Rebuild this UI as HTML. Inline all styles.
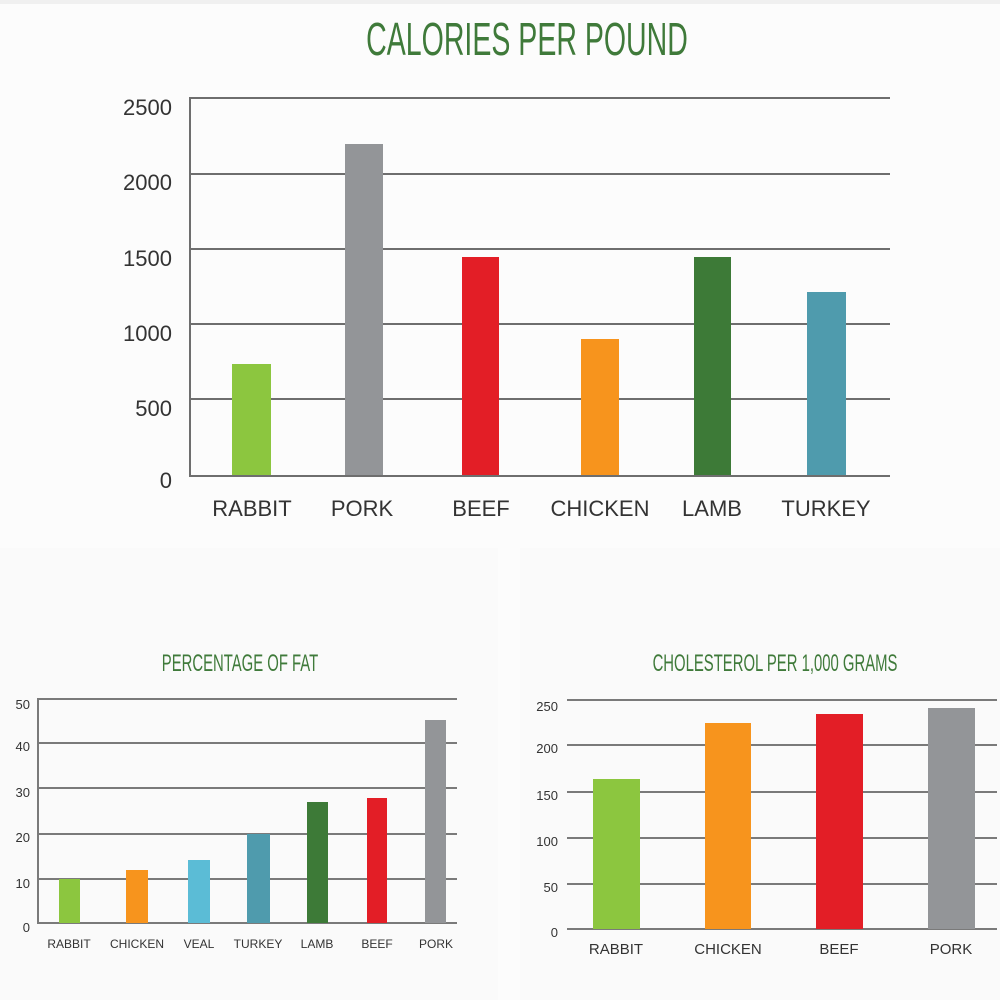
<!DOCTYPE html>
<html><head><meta charset="utf-8"><style>
html,body{margin:0;padding:0;background:#fff;}
svg{display:block;}
text{font-family:"Liberation Sans",sans-serif;}
</style></head><body>
<svg width="1000" height="1000" viewBox="0 0 1000 1000" xmlns="http://www.w3.org/2000/svg">
<rect x="0" y="0" width="1000" height="1000" fill="#fcfcfc"/>
<rect x="0" y="548" width="498" height="452" fill="#fafafa"/>
<rect x="520" y="548" width="480" height="452" fill="#fafafa"/>
<rect x="0" y="0" width="1000" height="4" fill="#f0f0f0"/>
<!-- Top chart -->
<text x="0" y="0" transform="translate(527,55) scale(0.62,1)" font-size="46" fill="#3f7a3a" text-anchor="middle">CALORIES PER POUND</text>
<g stroke="#6e6e6e" stroke-width="2">
<line x1="190" y1="98" x2="890" y2="98"/>
<line x1="190" y1="174" x2="890" y2="174"/>
<line x1="190" y1="249" x2="890" y2="249"/>
<line x1="190" y1="324" x2="890" y2="324"/>
<line x1="190" y1="399" x2="890" y2="399"/>
<line x1="190" y1="476" x2="890" y2="476"/>
<line x1="190" y1="97" x2="190" y2="477"/>
</g>
<g font-size="22" fill="#333" text-anchor="end">
<text x="172" y="115">2500</text><text x="172" y="190">2000</text><text x="172" y="266">1500</text>
<text x="172" y="341">1000</text><text x="172" y="416">500</text><text x="172" y="488">0</text>
</g>
<rect x="232" y="364" width="39" height="111" fill="#8cc63f"/>
<rect x="345" y="144" width="38" height="331" fill="#939598"/>
<rect x="462" y="257" width="37" height="218" fill="#e31e26"/>
<rect x="581" y="339" width="38" height="136" fill="#f7941d"/>
<rect x="694" y="257" width="37" height="218" fill="#3d7a37"/>
<rect x="807" y="292" width="39" height="183" fill="#4f9bad"/>
<g font-size="22" fill="#333" text-anchor="middle">
<text x="252" y="516">RABBIT</text><text x="362" y="516">PORK</text><text x="481" y="516">BEEF</text>
<text x="600" y="516">CHICKEN</text><text x="712" y="516">LAMB</text><text x="826" y="516">TURKEY</text>
</g>
<!-- Fat chart -->
<text x="0" y="0" transform="translate(240,671) scale(0.62,1)" font-size="24" fill="#3f7a3a" text-anchor="middle">PERCENTAGE OF FAT</text>
<g stroke="#7a7a7a" stroke-width="2">
<line x1="37" y1="699" x2="457" y2="699"/>
<line x1="37" y1="743" x2="457" y2="743"/>
<line x1="37" y1="788" x2="457" y2="788"/>
<line x1="37" y1="834" x2="457" y2="834"/>
<line x1="37" y1="879" x2="457" y2="879"/>
<line x1="37" y1="923" x2="457" y2="923"/>
<line x1="38" y1="698" x2="38" y2="924"/>
</g>
<g font-size="13" fill="#333" text-anchor="end">
<text x="30" y="709">50</text><text x="30" y="751">40</text><text x="30" y="797">30</text>
<text x="30" y="842">20</text><text x="30" y="888">10</text><text x="30" y="932">0</text>
</g>
<rect x="59" y="879" width="21" height="44" fill="#8cc63f"/>
<rect x="126" y="870" width="22" height="53" fill="#f7941d"/>
<rect x="188" y="860" width="22" height="63" fill="#5bbcd6"/>
<rect x="247" y="834" width="23" height="89" fill="#4f9bad"/>
<rect x="307" y="802" width="21" height="121" fill="#3d7a37"/>
<rect x="367" y="798" width="20" height="125" fill="#e31e26"/>
<rect x="425" y="720" width="21" height="203" fill="#939598"/>
<g font-size="12" fill="#333" text-anchor="middle">
<text x="69" y="948">RABBIT</text><text x="137" y="948">CHICKEN</text><text x="199" y="948">VEAL</text>
<text x="258" y="948">TURKEY</text><text x="317" y="948">LAMB</text><text x="377" y="948">BEEF</text><text x="436" y="948">PORK</text>
</g>
<!-- Cholesterol chart -->
<text x="0" y="0" transform="translate(775,671) scale(0.62,1)" font-size="24" fill="#3f7a3a" text-anchor="middle">CHOLESTEROL PER 1,000 GRAMS</text>
<g stroke="#7a7a7a" stroke-width="2">
<line x1="567" y1="700" x2="997" y2="700"/>
<line x1="567" y1="745" x2="997" y2="745"/>
<line x1="567" y1="792" x2="997" y2="792"/>
<line x1="567" y1="838" x2="997" y2="838"/>
<line x1="567" y1="884" x2="997" y2="884"/>
<line x1="567" y1="929" x2="997" y2="929"/>
</g>
<g font-size="13" fill="#333" text-anchor="end">
<text x="558" y="711">250</text><text x="558" y="753">200</text><text x="558" y="800">150</text>
<text x="558" y="846">100</text><text x="558" y="892">50</text><text x="558" y="937">0</text>
</g>
<rect x="593" y="779" width="47" height="150" fill="#8cc63f"/>
<rect x="705" y="723" width="46" height="206" fill="#f7941d"/>
<rect x="816" y="714" width="47" height="215" fill="#e31e26"/>
<rect x="928" y="708" width="47" height="221" fill="#939598"/>
<g font-size="15" fill="#333" text-anchor="middle">
<text x="616" y="954">RABBIT</text><text x="728" y="954">CHICKEN</text><text x="839" y="954">BEEF</text><text x="951" y="954">PORK</text>
</g>
</svg>
</body></html>
